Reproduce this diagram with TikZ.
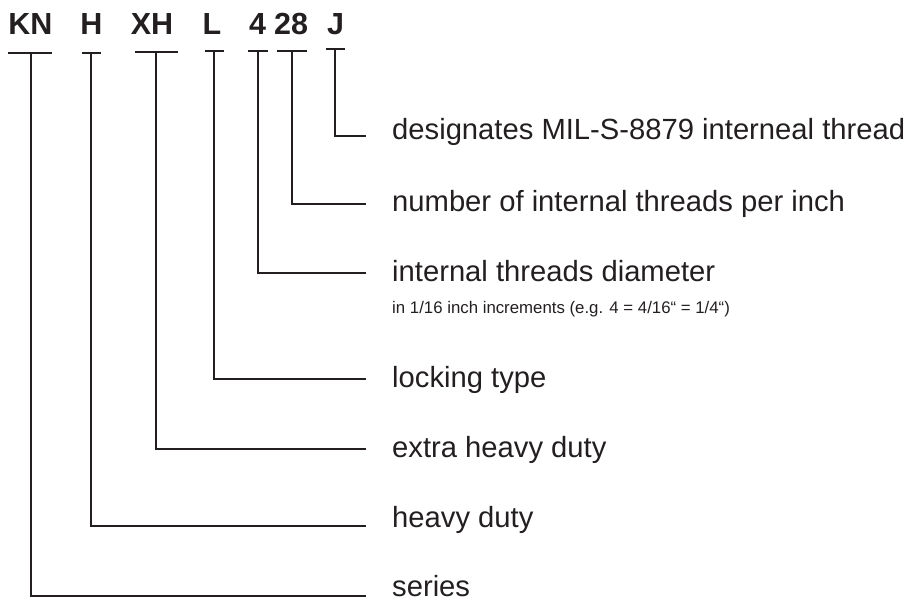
\documentclass[tikz,border=0pt]{standalone}
\usepackage{fontspec}
\setmainfont{Liberation Sans}
\definecolor{ink}{HTML}{231F20}
\begin{document}
\begin{tikzpicture}[x=1pt,y=-1pt,
  code/.style={font=\fontsize{30.5}{30.5}\selectfont\bfseries, text=ink, inner sep=0pt, anchor=base},
  lbl/.style={font=\fontsize{29.2}{29.2}\selectfont, text=ink, inner sep=0pt, anchor=base west},
  sublbl/.style={font=\fontsize{16.8}{16.8}\selectfont, text=ink, inner sep=0pt, anchor=base west},
  wire/.style={draw=ink, line width=1.7pt}]
\useasboundingbox (0,0) rectangle (909,601);

% code letters
\node[code] (kn)   at (30.5,35) {KN};
\node[code] (h)    at (91.5,35) {H};
\node[code] (xh)   at (152,35)  {XH};
\node[code] (l)    at (212,35)  {L};
\node[code] (four) at (257.5,35) {4};
\node[code] (tw)   at (291,35)  {28};
\node[code] (j)    at (335.5,35) {J};

% bars under letters
\coordinate (knA) at (8,53);    \coordinate (knB) at (52,53);   \coordinate (knT) at (31,53);
\coordinate (hA)  at (82,53);   \coordinate (hB)  at (101,53);  \coordinate (hT)  at (91,53);
\coordinate (xhA) at (135,52);  \coordinate (xhB) at (178,52);  \coordinate (xhT) at (156,52);
\coordinate (lA)  at (205,51);  \coordinate (lB)  at (224,51);  \coordinate (lT)  at (214,51);
\coordinate (fA)  at (248,51);  \coordinate (fB)  at (268,51);  \coordinate (fT)  at (258,51);
\coordinate (tA)  at (277,51);  \coordinate (tB)  at (307,51);  \coordinate (tT)  at (292,51);
\coordinate (jA)  at (326,49);  \coordinate (jB)  at (345,49);  \coordinate (jT)  at (335,49);

% line ends
\coordinate (jE)  at (366,136);
\coordinate (tE)  at (366,204);
\coordinate (fE)  at (366,273);
\coordinate (lE)  at (366,379);
\coordinate (xhE) at (366,449);
\coordinate (hE)  at (366,526);
\coordinate (knE) at (366,596);

% labels
\node[lbl] (dj)  at (392,140) {designates MIL-S-8879 interneal thread};
\node[lbl] (dt)  at (392,212) {number of internal threads per inch};
\node[lbl] (df)  at (392,282) {internal threads diameter};
\node[sublbl] (dfs) at (392,313) {in 1/16 inch increments (e.g. 4 = 4/16“ = 1/4“)};
\node[lbl] (dl)  at (392,387) {locking type};
\node[lbl] (dxh) at (392,457) {extra heavy duty};
\node[lbl] (dh)  at (392,527) {heavy duty};
\node[lbl] (dkn) at (392,596) {series};

% bars
\foreach \p in {kn,h,xh,l,f,t,j}{\draw[wire] (\p A) -- (\p B);}
% connectors
\draw[wire] (jT)  |- (jE);
\draw[wire] (tT)  |- (tE);
\draw[wire] (fT)  |- (fE);
\draw[wire] (lT)  |- (lE);
\draw[wire] (xhT) |- (xhE);
\draw[wire] (hT)  |- (hE);
\draw[wire] (knT) |- (knE);
\end{tikzpicture}
\end{document}
